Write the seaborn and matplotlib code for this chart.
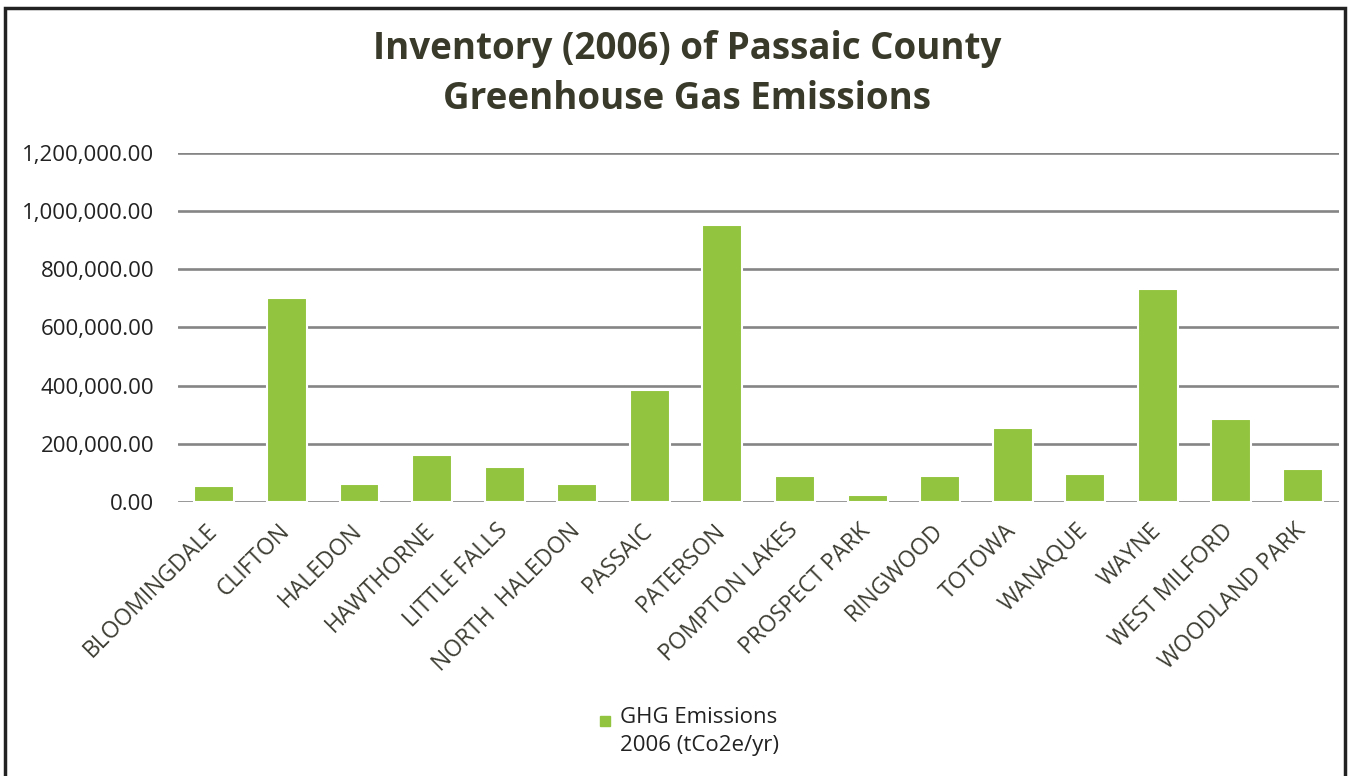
import numpy as np
import pandas as pd
import matplotlib
matplotlib.use("Agg")
import matplotlib.pyplot as plt
import matplotlib.patches as mpatches
import matplotlib.transforms as mtransforms
from matplotlib.ticker import FuncFormatter
import seaborn as sns

# --- data ---
towns = ["BLOOMINGDALE", "CLIFTON", "HALEDON", "HAWTHORNE", "LITTLE FALLS",
         "NORTH  HALEDON", "PASSAIC", "PATERSON", "POMPTON LAKES", "PROSPECT PARK",
         "RINGWOOD", "TOTOWA", "WANAQUE", "WAYNE", "WEST MILFORD", "WOODLAND PARK"]
emissions = [54000, 701000, 61000, 163000, 120000,
             61000, 386000, 952000, 89000, 23000,
             89000, 256000, 95000, 733000, 284000, 113000]
y_ticks = [0, 200000, 400000, 600000, 800000, 1000000, 1200000]
series_name = "GHG Emissions\n2006 (tCo2e/yr)"
title = "Inventory (2006) of Passaic County\nGreenhouse Gas Emissions"

df = pd.DataFrame({"town": towns, "ghg": emissions})

sns.set_theme(style="white")
plt.rcParams["font.family"] = ["Open Sans", "DejaVu Sans"]

bar_color = "#93c43f"
text_color = "#222222"
label_color = "#3d3d33"

fig = plt.figure(figsize=(13.52, 7.76), dpi=100)
ax = fig.add_axes([0.1317, 0.353, 0.859, 0.450])

sns.barplot(data=df, x="town", y="ghg", color=bar_color, width=0.55,
            edgecolor="white", linewidth=1.5, saturation=1, ax=ax, zorder=3)

ax.set_ylim(0, 1200000)
ax.set_yticks(y_ticks)
ax.yaxis.set_major_formatter(FuncFormatter(lambda v, p: f"{v:,.2f}"))
ax.grid(axis="y", color="#858585", linewidth=1.9, zorder=0)
ax.set_axisbelow(True)
for s in ax.spines.values():
    s.set_visible(False)
ax.set_xlabel("")
ax.set_ylabel("")
ax.tick_params(axis="y", labelsize=16, colors=text_color, pad=17, length=0)
ax.tick_params(axis="x", labelsize=16.5, colors=label_color, length=0, pad=12)
shift = mtransforms.ScaledTranslation(-9 / 100, 0, fig.dpi_scale_trans)
for lab in ax.get_xticklabels():
    lab.set_rotation(45)
    lab.set_ha("right")
    lab.set_rotation_mode("anchor")
    lab.set_transform(lab.get_transform() + shift)

# title
fig.text(0.508, 0.905, title, ha="center", va="center", fontsize=26.5,
         fontweight="bold", color="#3a3a2b", linespacing=1.4)

# legend: small swatch plus two-line label
fig.patches.append(mpatches.Rectangle((600 / 1352, 1 - 726 / 776), 10 / 1352, 10 / 776,
                                      transform=fig.transFigure, color=bar_color))
fig.text(620 / 1352, 1 - 707 / 776, series_name, ha="left", va="top",
         fontsize=16, color=text_color, linespacing=1.45)

# outer frame
frame = mpatches.Rectangle((0.004, -0.05), 0.991, 1.04, transform=fig.transFigure,
                           fill=False, edgecolor="#222222", linewidth=2.5)
fig.patches.append(frame)

fig.savefig("out.png", dpi=100, facecolor="white")
